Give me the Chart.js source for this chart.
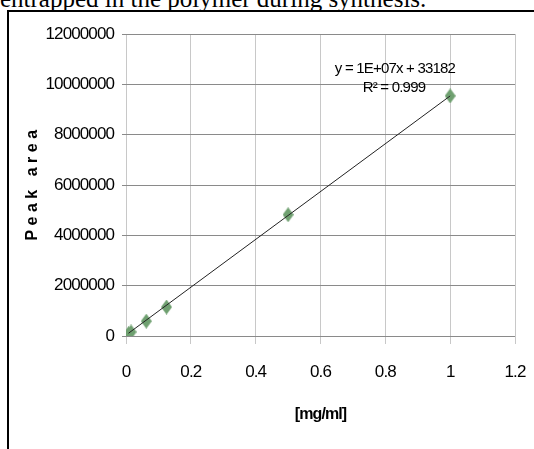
<!DOCTYPE html>
<html>
<head>
<meta charset="utf-8">
<script src="https://cdn.jsdelivr.net/npm/chart.js@4"></script>
<style>
    body { margin: 0; background: #fff; overflow: hidden; }
    #wrap { position: absolute; left: 0; top: 0; width: 534px; height: 449px; }
    #caption { position: absolute; left: 0; top: -14px; font: 25px "Liberation Serif", "Times New Roman", serif; line-height: 25px; white-space: nowrap; color: #000; }
    #frameTop { position: absolute; left: 7px; top: 10px; width: 527px; height: 2px; background: #000; }
    #frameLeft { position: absolute; left: 7px; top: 10px; width: 2px; height: 439px; background: #000; }
</style>
</head>
<body>
<div id="caption">entrapped in the polymer during synthesis.</div>
<div id="wrap"><canvas id="calib-chart"></canvas></div>
<div id="frameTop"></div>
<div id="frameLeft"></div>
<script>
// Calibration points
const concentration = [0.0078, 0.0156, 0.0625, 0.125, 0.5, 1];
const peakArea = [90000, 160000, 590000, 1150000, 4820000, 9540000];

// Trendline ends (as drawn in the picture)
const trendX = [0.0078, 1];
const trendY = [110000, 9540000];

// Axis ticks
const xTicks = [0, 0.2, 0.4, 0.6, 0.8, 1, 1.2];
const yTicks = [0, 2000000, 4000000, 6000000, 8000000, 10000000, 12000000];

const equationText = 'y = 1E+07x + 33182';
const r2Text = 'R² = 0.999';
const yTitle = 'Peak area';
const xTitle = '[mg/ml]';

// No narrow font here, so squeeze the letters a bit instead
const tickFont = '"Liberation Sans", Arial, sans-serif';
const squeeze = '-0.9px';

// Diamond marker, a bit taller than wide like Excel's
function makeDiamond(w, h, color) {
    const c = document.createElement('canvas');
    c.width = w;
    c.height = h;
    const g = c.getContext('2d');
    g.fillStyle = color;
    g.beginPath();
    g.moveTo(w / 2, 0);
    g.lineTo(w, h / 2);
    g.lineTo(w / 2, h);
    g.lineTo(0, h / 2);
    g.closePath();
    g.fill();
    return c;
}
const diamond = makeDiamond(11, 15, '#6fa070');

// Squeezed text for the axes, plus equation and y title on top
const textPlugin = {
    id: 'texts',
    beforeDraw(chart) {
        chart.ctx.letterSpacing = squeeze;
    },
    afterDraw(chart) {
        const ctx = chart.ctx;
        ctx.save();
        ctx.fillStyle = '#000';
        ctx.textAlign = 'center';
        ctx.textBaseline = 'middle';
        ctx.font = '15px ' + tickFont;
        ctx.letterSpacing = '-0.8px';
        ctx.fillText(equationText, 395, 69);
        ctx.fillText(r2Text, 394, 88);

        ctx.translate(33, 185);
        ctx.rotate(-Math.PI / 2);
        ctx.font = 'bold 16px "Liberation Sans", Arial, sans-serif';
        ctx.letterSpacing = '4.5px';
        ctx.fillText(yTitle, 2, 0);
        ctx.restore();
        ctx.letterSpacing = '0px';
    }
};

const ctx = document.getElementById('calib-chart').getContext('2d');
new Chart(ctx, {
    type: 'scatter',
    data: {
        datasets: [{
            label: 'trend',
            type: 'line',
            data: trendX.map((x, i) => ({ x: x, y: trendY[i] })),
            borderColor: '#222',
            borderWidth: 1,
            pointRadius: 0,
            fill: false,
            order: 1
        }, {
            label: 'Peak area',
            data: concentration.map((x, i) => ({ x: x, y: peakArea[i] })),
            pointStyle: diamond,
            pointRadius: 7,
            order: 2
        }]
    },
    options: {
        responsive: true,
        maintainAspectRatio: false,
        animation: false,
        layout: { padding: { left: 0, right: 19, top: 34, bottom: 0 } },
        plugins: {
            legend: { display: false },
            tooltip: { enabled: false }
        },
        scales: {
            x: {
                type: 'linear',
                min: 0,
                max: 1.2,
                afterBuildTicks(scale) { scale.ticks = xTicks.map(v => ({ value: v })); },
                afterFit(scale) {
                    scale.height = 113;
                    scale.paddingLeft = 0;
                    scale.paddingRight = 0;
                },
                border: { display: false },
                grid: { color: '#c8c8c8', lineWidth: 1, tickLength: 8 },
                ticks: {
                    padding: 18,
                    color: '#000',
                    font: { family: tickFont, size: 17 },
                    callback: v => String(Math.round(v * 10) / 10)
                },
                title: {
                    display: true,
                    text: xTitle,
                    color: '#000',
                    font: { family: tickFont, size: 16, weight: 'bold' },
                    padding: { bottom: 25 }
                }
            },
            y: {
                min: 0,
                max: 12000000,
                afterBuildTicks(scale) { scale.ticks = yTicks.map(v => ({ value: v })); },
                afterFit(scale) { scale.width = 126; },
                border: { display: false },
                grid: { color: '#8a8a8a', lineWidth: 1, tickLength: 4 },
                ticks: {
                    padding: 8,
                    color: '#000',
                    font: { family: tickFont, size: 17 },
                    callback: v => String(v)
                }
            }
        }
    },
    plugins: [textPlugin]
});
</script>
</body>
</html>
